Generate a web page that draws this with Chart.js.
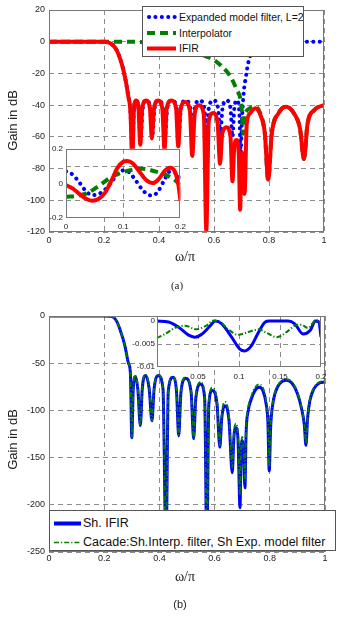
<!DOCTYPE html>
<html><head><meta charset="utf-8">
<script src="https://cdn.jsdelivr.net/npm/chart.js@4.4.1/dist/chart.umd.min.js"></script>
<style>
html,body{margin:0;padding:0;background:#fff;width:351px;height:617px;overflow:hidden;}
#wrap{position:relative;width:351px;height:617px;font-family:"Liberation Sans",Arial,sans-serif;color:#222;}
canvas{position:absolute;}
.t{position:absolute;white-space:nowrap;line-height:1;text-align:center;}
.serif{font-family:"Liberation Serif","Times New Roman",serif;}
.legend{position:absolute;background:#fff;border:1px solid #555;box-sizing:border-box;overflow:hidden;}
.legend svg{position:absolute;left:0;top:0;}
.legend span{position:absolute;white-space:nowrap;line-height:1;color:#111;}
</style></head>
<body><div id="wrap">
<canvas id="cTop" width="351" height="262" style="left:0;top:0"></canvas>
<canvas id="cTopIn" width="152" height="95" style="left:38px;top:141px"></canvas>
<canvas id="cBot" width="351" height="270" style="left:0;top:300px"></canvas>
<canvas id="cBotIn" width="231" height="78" style="left:120px;top:308px"></canvas>

<div class="legend" style="left:142px;top:6px;width:162px;height:51px;font-size:10.5px">
  <svg width="162" height="51">
    <line x1="6" y1="10" x2="33" y2="10" stroke="#0000ff" stroke-width="4" stroke-linecap="round" stroke-dasharray="0.1 6.3"/>
    <line x1="4" y1="26" x2="33" y2="26" stroke="#008000" stroke-width="4" stroke-dasharray="8 5"/>
    <line x1="4" y1="41.5" x2="33" y2="41.5" stroke="#ff0000" stroke-width="4"/>
  </svg>
  <span style="left:36px;top:4.5px">Expanded model filter, L=2</span>
  <span style="left:36px;top:20.5px">Interpolator</span>
  <span style="left:36px;top:36px">IFIR</span>
</div>

<div class="legend" style="left:49px;top:510px;width:287px;height:41px;font-size:12.5px">
  <svg width="287" height="41">
    <line x1="4" y1="12.5" x2="31" y2="12.5" stroke="#0000ff" stroke-width="4"/>
    <line x1="4" y1="31.5" x2="31" y2="31.5" stroke="#008000" stroke-width="1.6" stroke-dasharray="5 2 1.2 2"/>
  </svg>
  <span style="left:33px;top:6px">Sh. IFIR</span>
  <span style="left:33px;top:25px">Cacade:Sh.Interp. filter, Sh Exp. model filter</span>
</div>

<div class="t" style="left:-38px;top:114px;width:100px;font-size:13px;transform:rotate(-90deg)">Gain in dB</div>
<div class="t serif" style="left:160px;top:250px;width:50px;font-size:14px">ω/π</div>
<div class="t serif" style="left:157px;top:280px;width:40px;font-size:11px">(a)</div>
<div class="t" style="left:-38px;top:433px;width:100px;font-size:13px;transform:rotate(-90deg)">Gain in dB</div>
<div class="t serif" style="left:160px;top:570px;width:50px;font-size:14px">ω/π</div>
<div class="t" style="left:160px;top:599px;width:40px;font-size:11px">(b)</div>
</div>

<script>
// ---------- data (ω/π, gain) ----------
const topXTicks = [0, 0.2, 0.4, 0.6, 0.8, 1];
const topYTicks = [20, 0, -20, -40, -60, -80, -100, -120];
const botYTicks = [0, -50, -100, -150, -200, -250];
const topInXTicks = [0, 0.1, 0.2];
const topInYTicks = [0.2, 0.1, 0, -0.1, -0.2];
const botInXTicks = [0, 0.05, 0.1, 0.15, 0.2];
const botInYTicks = [0, -0.005, -0.01];

const expandedModel = [[0,0],[0.1,0],[0.2,0],[0.215,-0.4],[0.23,-1.8],[0.246,-5.3],[0.264,-13.7],[0.276,-22],[0.288,-34],[0.296,-44],
 [0.303,-70],[0.309,-42],[0.317,-37],[0.325,-42],[0.333,-60],[0.341,-42],[0.354,-37],[0.368,-42],[0.376,-58],[0.384,-42],
 [0.399,-37],[0.414,-42],[0.422,-60],[0.430,-42],[0.447,-37],[0.464,-42],[0.472,-58],[0.480,-42],[0.497,-37],[0.514,-42],
 [0.522,-58],[0.530,-42],[0.547,-37],[0.565,-42],[0.573,-60],[0.581,-42],[0.598,-37],[0.615,-42],[0.623,-58],[0.631,-42],
 [0.645,-37],[0.660,-42],[0.667,-60],[0.674,-42],[0.683,-37],[0.692,-44],[0.697,-70],[0.702,-48],[0.708,-32],[0.716,-22],
 [0.725,-13],[0.735,-7.5],[0.745,-4],[0.760,-1.5],[0.775,-0.3],[0.790,0],[0.85,0],[0.9,0],[1.0,0]];

const interpolator = [[0,0],[0.1,0],[0.2,0],[0.3,0],[0.35,-0.3],[0.4,-1],[0.45,-2.2],[0.5,-4.5],[0.55,-8],[0.575,-9.5],
 [0.6,-11.5],[0.625,-15],[0.66,-22],[0.682,-30],[0.697,-37],[0.702,-45],[0.706,-58],[0.710,-48],[0.717,-44],[0.73,-42],
 [0.75,-41],[0.768,-45],[0.785,-58],[0.797,-87],[0.810,-58],[0.835,-45],[0.862,-41],[0.890,-45],[0.913,-55],[0.927,-74],
 [0.940,-52],[0.965,-43],[1.0,-40]];

const ifir = [[0,0],[0.05,0],[0.1,0],[0.15,0],[0.2,0],[0.215,-0.4],[0.23,-1.8],[0.246,-5.3],[0.264,-13.7],[0.276,-22],
 [0.288,-34],[0.296,-44],[0.303,-75],[0.309,-42],[0.317,-37],[0.325,-41],[0.332,-65],[0.339,-42],[0.353,-37],[0.367,-42],
 [0.374,-61],[0.382,-42],[0.397,-37],[0.412,-42],[0.420,-68],[0.428,-42],[0.445,-37],[0.462,-42],[0.470,-66],[0.478,-43],
 [0.495,-38],[0.512,-43],[0.521,-72],[0.530,-45],[0.546,-40],[0.563,-46],[0.572,-119],[0.581,-50],[0.597,-45],[0.613,-51],
 [0.622,-77],[0.630,-58],[0.645,-54],[0.660,-60],[0.667,-88],[0.674,-66],[0.682,-62],[0.690,-70],[0.695,-106],[0.699,-75],
 [0.703,-70],[0.707,-78],[0.711,-96],[0.719,-52],[0.732,-45],[0.750,-42],[0.768,-46],[0.785,-58],[0.797,-87],[0.810,-58],
 [0.835,-45],[0.862,-41],[0.890,-45],[0.913,-55],[0.927,-74],[0.940,-52],[0.965,-43],[1.0,-40]];

const ifirZoom = [[0,-0.01],[0.012,-0.03],[0.025,-0.065],[0.037,-0.092],[0.046,-0.1],[0.056,-0.092],[0.068,-0.055],[0.08,0.02],
 [0.09,0.09],[0.1,0.125],[0.107,0.13],[0.117,0.115],[0.13,0.06],[0.142,0.015],[0.152,0.002],[0.162,0.025],[0.172,0.07],
 [0.182,0.09],[0.19,0.07],[0.196,0.0],[0.2,-0.1]];
const modelZoom = [[0,0.07],[0.012,0.05],[0.023,0.007],[0.035,-0.045],[0.046,-0.068],[0.058,-0.06],[0.07,-0.03],[0.082,0.02],
 [0.092,0.06],[0.1,0.075],[0.11,0.065],[0.12,0.026],[0.132,-0.03],[0.143,-0.065],[0.152,-0.07],[0.162,-0.04],[0.172,0.02],
 [0.182,0.07],[0.19,0.065],[0.197,0.04],[0.2,0.02]];
const interpZoom = [[0,-0.078],[0.018,-0.072],[0.036,-0.058],[0.057,-0.015],[0.076,0.03],[0.095,0.06],[0.115,0.078],
 [0.134,0.085],[0.155,0.07],[0.174,0.05],[0.19,0.02],[0.2,-0.01]];

const shIfir = [[0,0],[0.1,0],[0.2,0],[0.22,-0.3],[0.234,-1.5],[0.246,-6],[0.258,-15],[0.268,-24],[0.276,-33],[0.288,-50],
 [0.295,-61],[0.300,-129],[0.305,-79],[0.313,-64],[0.322,-78],[0.331,-116],[0.338,-77],[0.350,-63],[0.363,-77],[0.373,-111],
 [0.381,-77],[0.396,-63],[0.413,-77],[0.424,-250],[0.432,-80],[0.449,-65],[0.462,-80],[0.470,-127],[0.478,-81],[0.495,-66],
 [0.515,-81],[0.524,-130],[0.532,-87],[0.549,-72],[0.564,-87],[0.572,-250],[0.579,-94],[0.592,-79],[0.609,-94],[0.619,-139],
 [0.626,-108],[0.637,-95],[0.652,-110],[0.664,-166],[0.670,-128],[0.677,-118],[0.685,-132],[0.692,-203],[0.696,-145],
 [0.700,-132],[0.705,-145],[0.710,-182],[0.714,-125],[0.722,-100],[0.733,-88],[0.746,-79],[0.761,-75.5],[0.775,-79],
 [0.786,-92],[0.793,-112],[0.798,-164],[0.803,-118],[0.81,-95],[0.82,-81],[0.835,-72],[0.858,-68],[0.88,-71],[0.9,-82],
 [0.915,-98],[0.925,-115],[0.931,-137],[0.937,-108],[0.945,-90],[0.96,-77],[0.98,-71],[1.0,-70]];

const cascade = [[0,0],[0.1,0],[0.2,0],[0.22,-0.3],[0.234,-1.5],[0.246,-6],[0.258,-15],[0.268,-24],[0.276,-33],[0.288,-50],
 [0.295,-61],[0.300,-129],[0.305,-78],[0.313,-63],[0.322,-77],[0.331,-116],[0.338,-76],[0.350,-62],[0.363,-76],[0.373,-111],
 [0.381,-76],[0.396,-62],[0.413,-76],[0.424,-250],[0.432,-79],[0.449,-64],[0.462,-79],[0.470,-126],[0.478,-80],[0.495,-65],
 [0.515,-80],[0.524,-130],[0.532,-85],[0.549,-70],[0.564,-85],[0.572,-250],[0.579,-91],[0.592,-76],[0.609,-91],[0.619,-137],
 [0.626,-104],[0.637,-91],[0.652,-106],[0.664,-160],[0.670,-124],[0.677,-114],[0.685,-128],[0.692,-190],[0.696,-141],
 [0.700,-128],[0.705,-141],[0.710,-175],[0.714,-122],[0.722,-97],[0.733,-85],[0.746,-76],[0.761,-72.5],[0.775,-76],
 [0.786,-89],[0.793,-110],[0.798,-160],[0.803,-116],[0.81,-94],[0.82,-80],[0.835,-71],[0.858,-67],[0.88,-70],[0.9,-81],
 [0.915,-97],[0.925,-114],[0.931,-135],[0.937,-107],[0.945,-89],[0.96,-76],[0.98,-70],[1.0,-69]];

const shIfirZoom = [[0,0],[0.014,-0.0002],[0.026,-0.0013],[0.038,-0.003],[0.046,-0.0035],[0.055,-0.0028],[0.065,-0.001],
 [0.071,0],[0.079,-0.0006],[0.091,-0.0035],[0.101,-0.0061],[0.107,-0.0065],[0.115,-0.0054],[0.124,-0.0024],[0.132,-0.0002],
 [0.137,0],[0.16,0],[0.168,-0.0006],[0.178,-0.0028],[0.187,-0.002],[0.193,0],[0.1975,-0.0002],[0.2,-0.0035]];
const cascadeZoom = [[0,-0.0037],[0.01,-0.0028],[0.022,-0.0015],[0.034,-0.001],[0.048,-0.0018],[0.059,-0.0011],
 [0.069,0.0001],[0.077,-0.0002],[0.087,-0.0018],[0.099,-0.003],[0.111,-0.0024],[0.124,-0.0018],[0.134,-0.0026],
 [0.146,-0.0035],[0.158,-0.0024],[0.168,-0.001],[0.176,-0.0008],[0.184,-0.0015],[0.193,0.0001],[0.197,0.0002],[0.2,-0.0013]];

// ---------- helpers ----------
const FONT = '"Liberation Sans", Arial, sans-serif';
const pts = a => a.map(([x, y]) => ({x, y}));
const BLUE = '#0000ff', GREEN = '#008000', RED = '#ff0000';
const GRID = '#8c8c8c';

const boxPlugin = {
  id: 'box',
  beforeDraw(chart, args, o) {
    if (!o.fill) return;
    const {ctx, chartArea: a} = chart;
    ctx.save(); ctx.fillStyle = o.fill;
    ctx.fillRect(a.left, a.top, a.right - a.left, a.bottom - a.top); ctx.restore();
  },
  afterDatasetsDraw(chart, args, o) {
    const {ctx, chartArea: a} = chart;
    ctx.save(); ctx.strokeStyle = o.color || '#777'; ctx.lineWidth = 1; ctx.setLineDash([]);
    ctx.strokeRect(Math.round(a.left) + 0.5, Math.round(a.top) + 0.5,
      Math.round(a.right - a.left) - 1, Math.round(a.bottom - a.top) - 1);
    ctx.restore();
  }
};

function axis(min, max, ticksArr, o) {
  return {
    type: 'linear', min, max,
    afterBuildTicks: s => { s.ticks = ticksArr.map(v => ({value: v})); },
    ticks: { autoSkip: false, maxRotation: 0, minRotation: 0, padding: o.pad, color: '#222',
      font: {size: o.fs, family: FONT}, callback: o.label || (v => String(v)) },
    grid: { drawTicks: false, lineWidth: 1, color: o.grid || GRID },
    border: { display: false, dash: [5, 4] },
    afterFit: o.fit
  };
}

function ds(data, color, width, dash, order, cap) {
  return { data: pts(data), borderColor: color, borderWidth: width, borderDash: dash || [],
    borderCapStyle: cap || 'butt', borderJoinStyle: 'round', pointRadius: 0, fill: false,
    cubicInterpolationMode: 'monotone', order };
}

function makeChart(id, datasets, xs, ys, padding, box) {
  return new Chart(document.getElementById(id), {
    type: 'line',
    data: { datasets },
    options: {
      responsive: false, animation: false, devicePixelRatio: 1, events: [],
      layout: { padding },
      plugins: { legend: {display: false}, tooltip: {enabled: false}, box },
      scales: { x: xs, y: ys }
    },
    plugins: [boxPlugin]
  });
}

// ---------- (a) main ----------
makeChart('cTop', [
  ds(ifir, RED, 4, [], 0),
  ds(interpolator, GREEN, 4, [8, 5], 1),
  ds(expandedModel, BLUE, 4, [0.1, 6.3], 2, 'round')
],
  axis(0, 1, topXTicks, {pad: 3, fs: 9, fit: s => { s.height = 30; }}),
  axis(-120, 20, topYTicks, {pad: 4, fs: 9, fit: s => { s.width = 49; }}),
  {top: 10, right: 27, left: 0, bottom: 0}, {color: '#777'});

// ---------- (a) inset ----------
makeChart('cTopIn', [
  ds(ifirZoom, RED, 4, [], 0),
  ds(interpZoom, GREEN, 4, [8, 5], 1),
  ds(modelZoom, BLUE, 4, [0.1, 6.3], 2, 'round')
],
  axis(0, 0.2, topInXTicks, {pad: 4, fs: 8,
    grid: c => (c.tick && c.tick.value === 0.1 ? GRID : 'rgba(0,0,0,0)'),
    fit: s => { s.height = 18; }}),
  axis(-0.2, 0.2, topInYTicks, {pad: 3, fs: 8,
    label: v => (Math.abs(v) === 0.1 ? '' : String(v)),
    grid: c => (c.tick && Math.abs(c.tick.value) === 0.1 ? GRID : 'rgba(0,0,0,0)'),
    fit: s => { s.width = 28; }}),
  {top: 6, right: 8, left: 0, bottom: 0}, {fill: '#fff', color: '#777'});

// ---------- (b) main ----------
makeChart('cBot', [
  ds(cascade, GREEN, 1.8, [5, 2, 1.2, 2], 0),
  ds(shIfir, BLUE, 3, [], 1)
],
  axis(0, 1, topXTicks, {pad: 1, fs: 9, fit: s => { s.height = 18; }}),
  axis(-250, 0, botYTicks, {pad: 4, fs: 9, fit: s => { s.width = 49; }}),
  {top: 16, right: 26, left: 0, bottom: 0}, {color: '#777'});

// ---------- (b) inset ----------
makeChart('cBotIn', [
  ds(cascadeZoom, GREEN, 2, [5, 2, 1.2, 2], 0),
  ds(shIfirZoom, BLUE, 3, [], 1)
],
  axis(0, 0.2, botInXTicks, {pad: 5, fs: 8,
    label: v => (v === 0 ? '' : String(v)),
    grid: c => (c.tick && c.tick.value > 0 && c.tick.value < 0.2 ? GRID : 'rgba(0,0,0,0)'),
    fit: s => { s.height = 19; }}),
  axis(-0.01, 0.0011, botInYTicks, {pad: 2, fs: 8,
    grid: c => (c.tick && c.tick.value === -0.005 ? GRID : 'rgba(0,0,0,0)'),
    fit: s => { s.width = 37; }}),
  {top: 8, right: 30, left: 0, bottom: 0}, {fill: '#fff', color: '#777'});
</script>
</body></html>
